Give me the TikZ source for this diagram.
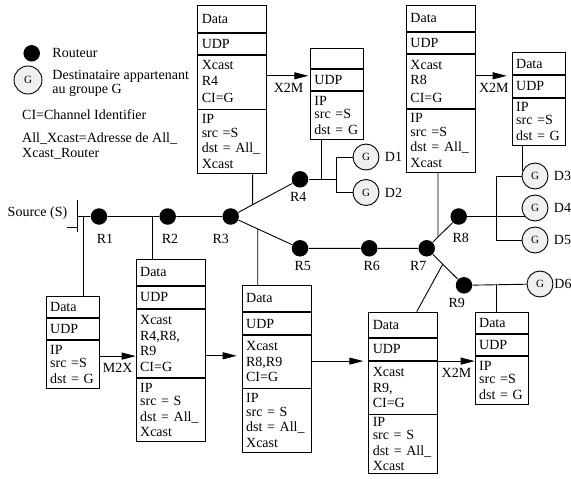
\documentclass[tikz,border=0pt]{standalone}
\usepackage{fontspec}
\setmainfont{Liberation Serif}
\usetikzlibrary{positioning,calc,arrows.meta}

\begin{document}
\begin{tikzpicture}[x=1pt,y=-1pt,line width=0.9pt,
  font=\fontsize{14}{15.5}\selectfont,
  router/.style={circle,fill=black,inner sep=0pt,minimum size=16.5pt},
  dest/.style={circle,draw,fill=gray!12,inner sep=0pt,minimum size=26pt,font=\fontsize{11}{12}\selectfont},
  sec/.style={draw,align=left,inner xsep=4pt,inner ysep=0.5pt},
  secs/.style={sec,text width=45pt},
  secb/.style={sec,text width=61pt},
  rname/.style={inner sep=0pt},
  pkt/.style={-{Triangle[length=14pt,width=7pt]}}]
                    \def\ipg{IP\\[-2pt]src =S\\dst = G}
                    \def\ipall{IP\\[-2pt]src = S\\dst = All\_\\Xcast}
                    \def\iptop{IP\\[-2pt]src =S\\dst = All\_\\Xcast}
                    \useasboundingbox (0,0) rectangle (571,479);

                    \node[router] (lgR) at (31.7,53.3) {};
                    \node[anchor=west] (lgRt) at (48.7,53.3) {Routeur};
                    \node[dest,minimum size=28pt] (lgG) at (28,80) {G};
                    \node[anchor=west,align=left,font=\fontsize{14}{14}\selectfont] (lgGt) at (48.7,83) {Destinataire appartenant\\au groupe G};
                    \node[anchor=west] (lgCI) at (18.4,115) {CI=Channel Identifier};
                    \node[anchor=west,align=left] (lgAll) at (18.4,146) {All\_Xcast=Adresse de All\_\\Xcast\_Router};

                    \node[router] (R1) at (99,216.5) {};
                    \node[router] (R2) at (167.7,216.5) {};
                    \node[router] (R3) at (230.7,216.5) {};
                    \node[router] (R4) at (300,179.3) {};
                    \node[router] (R5) at (300,248.3) {};
                    \node[router] (R6) at (369.3,248.3) {};
                    \node[router] (R7) at (426.7,248.3) {};
                    \node[router] (R8) at (458.7,216.5) {};
                    \node[router] (R9) at (464,285.3) {};
                    \node[rname] (lR1) at ($(R1)+(6,22.5)$) {R1};
                    \node[rname] (lR2) at ($(R2)+(2.3,22.5)$) {R2};
                    \node[rname] (lR3) at ($(R3)+(-10,22.5)$) {R3};
                    \node[rname] (lR4) at ($(R4)+(-1.7,17.4)$) {R4};
                    \node[rname] (lR5) at ($(R5)+(2.7,17.7)$) {R5};
                    \node[rname] (lR6) at ($(R6)+(2.4,17.7)$) {R6};
                    \node[rname] (lR7) at ($(R7)+(-8.4,17.7)$) {R7};
                    \node[rname] (lR8) at ($(R8)+(2,21.8)$) {R8};
                    \node[rname] (lR9) at ($(R9)+(-7.3,17.4)$) {R9};

                    \node[dest] (D1) at (366,157) {G};
                    \node[dest] (D2) at (366,192.5) {G};
                    \node[dest] (D3) at (535,176) {G};
                    \node[dest] (D4) at (535,208) {G};
                    \node[dest] (D5) at (535,240) {G};
                    \node[dest] (D6) at (540,284) {G};
                    \node[rname,right=5pt of D1] (lD1) {D1};
                    \node[rname,right=5pt of D2] (lD2) {D2};
                    \node[rname,right=5pt of D3] (lD3) {D3};
                    \node[rname,right=5pt of D4] (lD4) {D4};
                    \node[rname,right=5pt of D5] (lD5) {D5};
                    \node[rname,right=0.5pt of D6] (lD6) {D6};

                    \coordinate (src) at (77,216.5);
                    \draw ($(src)+(0,-16.5)$) -- ($(src)+(0,15.5)$);
                    \draw ($(src)+(-10,10.5)$) -- ($(src)+(0,10.5)$);
                    \node[anchor=east] (lsrc) at (71,213) {Source (S)};
                    \draw (src) -- (R1) -- (R2) -- (R3) -- (R4);
                    \draw (R3) -- (R5) -- (R6) -- (R7) -- (R8);
                    \draw (R7) -- (R9) -- (D6);
                    \coordinate (j4) at (336.7,179.3);
                    \draw (R4) -- (j4);
                    \draw (j4) |- (D1);
                    \draw (j4) |- (D2);
                    \coordinate (j8) at (496,210);
                    \draw (j8) |- (D3);
                    \draw (j8) |- (D5);
                    \draw (R8) -- (R8 -| D4.221);

                    \node[secs,minimum height=21pt,anchor=north west] (A1) at (45.7,296) {Data};
                    \node[secs,minimum height=21pt,below=0pt of A1] (A2) {UDP};
                    \node[secs,minimum height=47.7pt,below=0pt of A2] (A3) {\ipg};

                    \node[secb,minimum height=26pt,anchor=north west] (B1) at (135.7,259) {Data};
                    \node[secb,minimum height=21.7pt,below=0pt of B1] (B2) {UDP};
                    \node[secb,minimum height=68.6pt,below=0pt of B2] (B3) {Xcast\\R4,R8,\\R9\\CI=G};
                    \node[secb,minimum height=63.4pt,below=0pt of B3] (B4) {\ipall};

                    \node[secb,minimum height=26pt,anchor=north west] (C1) at (241.7,285) {Data};
                    \node[secb,minimum height=22.3pt,below=0pt of C1] (C2) {UDP};
                    \node[secb,minimum height=52.4pt,below=0pt of C2] (C3) {Xcast\\R8,R9\\CI=G};
                    \node[secb,minimum height=63.3pt,below=0pt of C3] (C4) {\ipall};

                    \node[secb,minimum height=25pt,anchor=north west] (D1b) at (368.3,311.7) {Data};
                    \node[secb,minimum height=22.6pt,below=0pt of D1b] (D2b) {UDP};
                    \node[secb,minimum height=52.4pt,below=0pt of D2b] (D3b) {Xcast\\R9,\\CI=G};
                    \node[secb,minimum height=58.3pt,below=0pt of D3b] (D4b) {\ipall};

                    \node[secs,minimum height=21.6pt,anchor=north west] (E1) at (474.7,311.7) {Data};
                    \node[secs,minimum height=21pt,below=0pt of E1] (E2) {UDP};
                    \node[secs,minimum height=47.4pt,below=0pt of E2] (E3) {\ipg};

                    \node[secb,minimum height=26.7pt,anchor=north west] (F1) at (197.3,5) {Data};
                    \node[secb,minimum height=21pt,below=0pt of F1] (F2) {UDP};
                    \node[secb,minimum height=54pt,below=0pt of F2] (F3) {Xcast\\R4\\[2pt]CI=G};
                    \node[secb,minimum height=63.3pt,below=0pt of F3] (F4) {\iptop};

                    \node[secs,minimum height=20.6pt,anchor=north west] (G1) at (310,47.7) {};
                    \node[secs,minimum height=21pt,below=0pt of G1] (G2) {UDP};
                    \node[secs,minimum height=47.4pt,below=0pt of G2] (G3) {\ipg};

                    \node[secb,minimum height=26pt,anchor=north west] (H1) at (406,5) {Data};
                    \node[secb,minimum height=21.3pt,below=0pt of H1] (H2) {UDP};
                    \node[secb,minimum height=53.7pt,below=0pt of H2] (H3) {Xcast\\R8\\[2pt]CI=G};
                    \node[secb,minimum height=63pt,below=0pt of H3] (H4) {\iptop};

                    \node[secs,minimum height=21.7pt,anchor=north west] (I1) at (511.7,52.3) {Data};
                    \node[secs,minimum height=21.7pt,below=0pt of I1] (I2) {UDP};
                    \node[secs,minimum height=47pt,below=0pt of I2] (I3) {\ipg};

                    \coordinate (tA) at ($(A1.north west)+(37.3,0)$);
                    \draw (tA) -- (tA |- src);
                    \coordinate (tB) at ($(B1.north west)+(16.3,0)$);
                    \draw (tB) -- (tB |- R2);
                    \coordinate (tC) at ($(C1.north west)+(16,0)$);
                    \draw (tC) -- ($(R3)!0.39!(R5)$);
                    \coordinate (tD) at ($(D1b.north west)+(48.4,0)$);
                    \draw (tD) -- ($(R7)!0.43!(R9)$);
                    \coordinate (tE) at ($(E1.north west)+(21.3,0)$);
                    \draw (tE) -- (tE |- R9);
                    \coordinate (tF) at ($(F4.south west)+(55.4,0)$);
                    \draw (tF) -- ($(R3)!0.317!(R4)$);
                    \coordinate (tG) at ($(G3.south west)+(11,0)$);
                    \draw (tG) -- (tG |- R4);
                    \coordinate (tH) at ($(H4.south west)+(32,0)$);
                    \draw (tH) -- ($(R7)!0.353!(R8)$);
                    \coordinate (tI) at (D3.160 |- I3.south);
                    \draw (tI) -- (D3.160);

                    \coordinate (aA) at ($(A3.north east)+(0,16.3)$);
                    \draw[pkt] (aA) -- (aA -| B1.west) node[midway,below=7pt,inner sep=0pt] (xA) {M2X};
                    \coordinate (aB) at ($(B3.north east)+(0,47.3)$);
                    \draw[pkt,shorten >=5pt] (aB) -- (aB -| C1.west);
                    \coordinate (aC) at ($(C3.north east)+(0,26)$);
                    \draw[pkt,shorten >=5pt] (aC) -- (aC -| D1b.west);
                    \coordinate (aD) at (D3b.north east);
                    \draw[pkt] (aD) -- (aD -| E1.west) node[midway,below=7pt,inner sep=0pt] (xD) {X2M};
                    \coordinate (aF) at ($(F3.north east)+(0,21.3)$);
                    \draw[pkt,shorten >=1.7pt] (aF) -- (aF -| G1.west) node[midway,below=7pt,inner sep=0pt] (xF) {X2M};
                    \coordinate (aH) at ($(H3.north east)+(0,21.7)$);
                    \draw[pkt,shorten >=5pt] (aH) -- (aH -| I1.west) node[midway,below=7pt,inner sep=0pt] (xH) {X2M};
                \end{tikzpicture}
\end{document}
